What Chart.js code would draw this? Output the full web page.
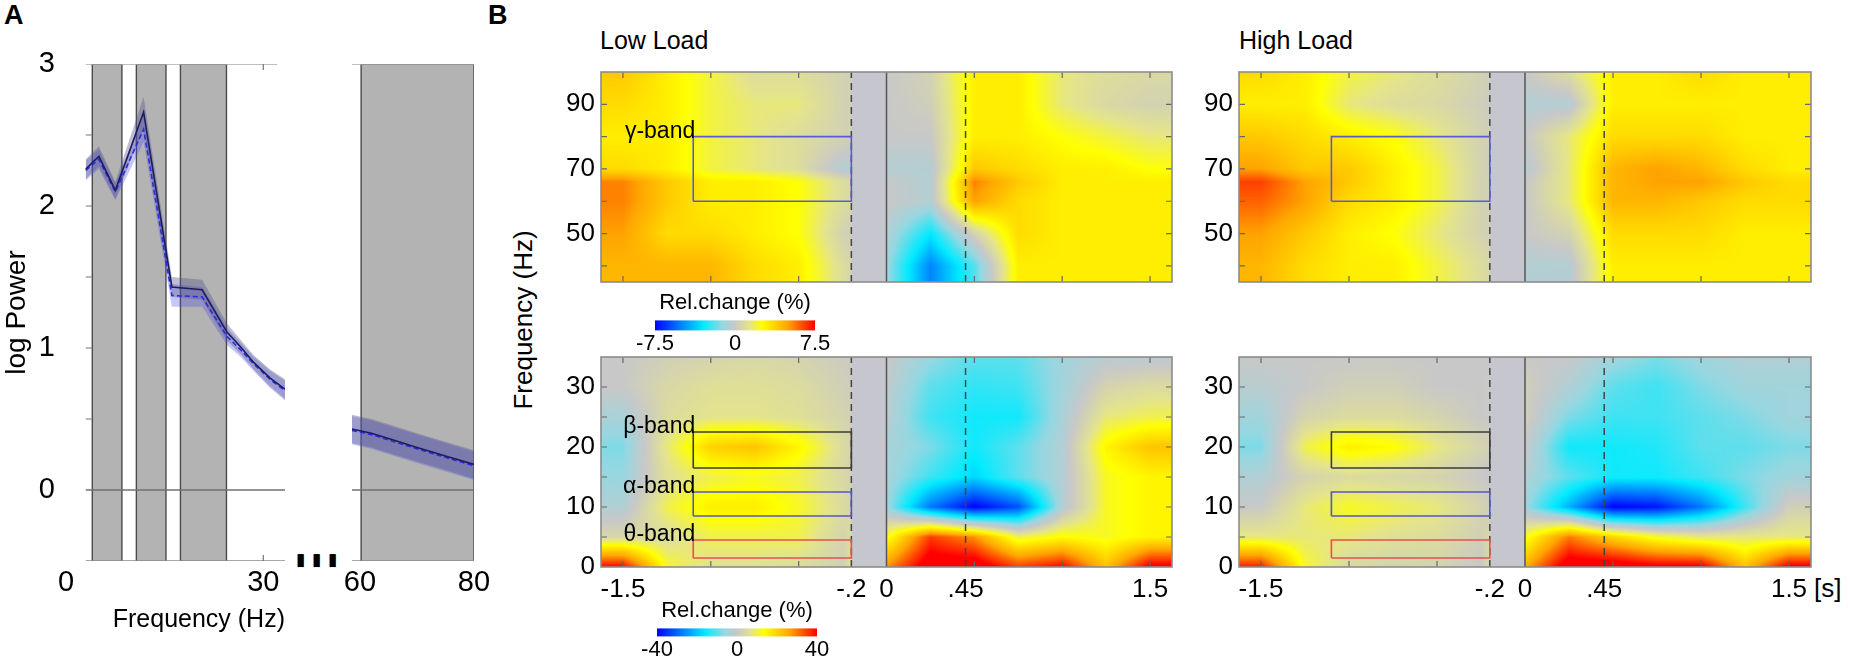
<!DOCTYPE html>
<html>
<head>
<meta charset="utf-8">
<script src="https://cdn.jsdelivr.net/npm/chart.js@4.4.1/dist/chart.umd.min.js"></script>
<style>
  html, body { margin: 0; padding: 0; background: #fff; overflow: hidden; }
  body { width: 1850px; height: 666px; position: relative; font-family: "Liberation Sans", Arial, sans-serif; }
  canvas { position: absolute; }
  .lbl { position: absolute; color: #000; white-space: nowrap; line-height: 30px; }
</style>
</head>
<body>
<div class="lbl" style="left:4px;top:0px;font-size:27px;font-weight:bold">A</div>
<div class="lbl" style="left:488px;top:0px;font-size:27px;font-weight:bold">B</div>
<div class="lbl" style="left:600px;top:25px;font-size:25px">Low Load</div>
<div class="lbl" style="left:1239px;top:25px;font-size:25px">High Load</div>
<div class="lbl" style="left:373px;top:305px;width:300px;text-align:center;font-size:26px;transform:rotate(-90deg)">Frequency (Hz)</div>
<div class="lbl" style="left:1814px;top:573px;font-size:26px">[s]</div>
<div class="lbl" style="left:296px;top:545px;font-size:17px;letter-spacing:7px">▮▮▮</div>

<canvas id="specLow" width="300" height="666" style="left:0;top:0"></canvas>
<canvas id="specHigh" width="190" height="666" style="left:300px;top:0"></canvas>
<canvas id="llGamma" width="635" height="214" style="left:541px;top:70px"></canvas>
<canvas id="llSlow" width="635" height="252" style="left:541px;top:355px"></canvas>
<canvas id="hlGamma" width="636" height="214" style="left:1179px;top:70px"></canvas>
<canvas id="hlSlow" width="636" height="252" style="left:1179px;top:355px"></canvas>
<canvas id="cbGamma" width="240" height="70" style="left:615px;top:290px"></canvas>
<canvas id="cbSlow" width="240" height="66" style="left:617px;top:598px"></canvas>

<script>
// ---------- Panel A: log power spectrum ----------
const freqLowHz   = [3, 5, 7.5, 11.8, 16.1, 20.7, 24.5, 26.5, 28.5, 31, 33.3];
const powerSolid  = [2.26, 2.35, 2.11, 2.66, 1.43, 1.41, 1.11, 1.01, 0.90, 0.79, 0.71];
const powerDashed = [2.25, 2.33, 2.10, 2.54, 1.37, 1.36, 1.08, 0.99, 0.89, 0.78, 0.70];
const semSolid    = [0.07, 0.07, 0.06, 0.11, 0.07, 0.07, 0.06, 0.05, 0.05, 0.06, 0.07];
const semDashed   = [0.07, 0.07, 0.06, 0.09, 0.08, 0.07, 0.06, 0.05, 0.05, 0.06, 0.07];

const freqHighHz      = [58.6, 62, 66, 70, 75, 80];
const powerSolidHigh  = [0.43, 0.40, 0.35, 0.30, 0.24, 0.18];
const powerDashedHigh = [0.42, 0.39, 0.34, 0.29, 0.23, 0.17];
const semHigh         = [0.10, 0.10, 0.10, 0.10, 0.10, 0.10];

const bandsLowHz  = [[4, 8.5], [10.7, 15.2], [17.4, 24.4]];
const bandsHighHz = [[60.2, 80]];
const powerTicks  = [0, 1, 2, 3];

// ---------- Panel B: time-frequency maps (rows = frequency, cols = time) ----------
const tfTimes    = [-1.5, -1.25, -1, -0.75, -0.5, -0.25, 0, 0.25, 0.5, 0.75, 1, 1.25, 1.5];
const gammaFreqs = [40, 50, 60, 66, 70, 80, 90, 100];
const slowFreqs  = [0, 5, 10, 15, 20, 25, 30, 35];

const lowLoadGamma = [
  [4.5, 4.5, 4.5, 3.5, 3, 1, -1, -5, -2, 3, 3, 3, 3],
  [5, 3.5, 3.5, 3, 2.5, 0.5, -0.5, -3, 0.5, 3.5, 3, 3, 3],
  [5.5, 4, 3, 3, 2.5, 1, 0, -0.5, 5, 3.5, 3, 3, 3],
  [5.5, 4, 3, 3, 2.5, 1, 0, -0.5, 5.5, 4, 3, 3, 3],
  [3.5, 3, 2, 1.5, 1, -0.5, -0.5, -0.5, 4, 3.5, 3, 3, 2.5],
  [3, 3, 2, 1.5, 1, 0.5, 0, 0, 3, 3, 2.5, 2, 1.5],
  [3.5, 3, 2, 1.5, 1.5, 0.5, 0, 0.3, 3, 3, 1.5, 0.8, 0.5],
  [4, 3, 2, 1, 1, 0.5, 0, 0.5, 3, 3, 1.5, 1, 0.8]
];
const highLoadGamma = [
  [4.5, 3.5, 3, 3, 2, 1, -0.5, -0.5, 3, 3, 3, 3, 3],
  [5, 4, 3, 2.5, 1.5, 0.5, 0, 0.5, 3.5, 3.5, 3.5, 3, 3],
  [6, 5, 3.5, 3, 2, 0.5, 0, 1.5, 4.5, 4.5, 4, 3.5, 3.5],
  [6.5, 5, 4, 3, 2, 0.5, 0, 1.5, 4.5, 5, 5, 4, 3.5],
  [5, 4, 4, 3, 2, 0.5, -0.5, 1.5, 4.5, 5, 4.5, 3.5, 3],
  [4, 3.5, 3, 2.5, 1.5, 0.5, 0, 1.5, 3.5, 3.5, 3.5, 3, 3],
  [3, 3, 1.5, 1, 0.8, 0.3, -0.5, -0.5, 3, 3, 3, 3, 3],
  [3.5, 3, 2, 1.5, 1, 0.5, 0, 1, 3, 3, 3.5, 3, 3]
];
const lowLoadSlow = [
  [40, 12, 6, 6, 5, 2, 28, 45, 45, 35, 40, 22, 42],
  [4, 5, 10, 10, 10, 3, 12, 35, 28, 10, 14, 12, 15],
  [-3, 10, 16, 16, 12, 5, -5, -28, -40, -32, -3, 12, 15],
  [-6, 6, 10, 12, 10, 4, -4, -12, -18, -10, -3, 12, 15],
  [-8, 8, 20, 22, 15, 5, -4, -8, -15, -10, -3, 15, 22],
  [-4, 5, 7, 7, 6, 3, -2, -12, -15, -15, -4, 8, 10],
  [0, 4, 6, 6, 5, 2, -1, -10, -13, -12, -5, 3, 5],
  [0, 2, 3, 4, 3, 1, 0, -6, -10, -10, -5, -2, -2]
];
const highLoadSlow = [
  [38, 12, 4, 3, 3, 0, 25, 45, 45, 42, 42, 22, 42],
  [8, 8, 8, 6, 5, 2, 12, 30, 20, 12, 8, 8, 8],
  [0, 8, 12, 10, 8, 3, -5, -22, -40, -38, -28, -12, 2],
  [-3, 3, 5, 4, 3, 0, -3, -10, -15, -15, -12, -8, -5],
  [-8, 10, 16, 14, 8, 3, 0, -15, -15, -14, -10, -10, -8],
  [-5, 3, 5, 5, 3, 0, 2, -8, -12, -12, -10, -8, -5],
  [-2, 0, 2, 2, 0, 0, 2, -3, -10, -12, -8, -5, -5],
  [0, 0, 0, 0, 0, 0, 0, 0, -5, -8, -5, -3, -3]
];

const timeTickValues = [-1.5, -0.2, 0, 0.45, 1.5];
const timeTickLabels = ['-1.5', '-.2', '0', '.45', '1.5'];
const timeMarks  = [-1.5, -1, -0.5, 0.5, 1, 1.5];
const gammaTicks = [50, 70, 90];
const slowTicks  = [0, 10, 20, 30];
const gammaLimit = 7.5;
const slowLimit  = 40;

// analysis windows: [tStart, tEnd, fLow, fHigh]
const gammaBox = [-1.1, -0.2, 60, 80];
const betaBox  = [-1.1, -0.2, 16.5, 22.5];
const alphaBox = [-1.1, -0.2, 8.5, 12.5];
const thetaBox = [-1.1, -0.2, 1.5, 4.5];

Chart.defaults.font.family = '"Liberation Sans", Arial, sans-serif';
Chart.defaults.color = '#000';
Chart.defaults.animation = false;
Chart.defaults.plugins.legend.display = false;
Chart.defaults.plugins.tooltip.enabled = false;

const cmapStops = [
  [0.00, [0, 0, 255]],
  [0.15, [0, 120, 255]],
  [0.30, [0, 235, 255]],
  [0.42, [150, 215, 225]],
  [0.50, [200, 200, 200]],
  [0.59, [228, 228, 140]],
  [0.67, [255, 255, 0]],
  [0.83, [255, 165, 0]],
  [1.00, [255, 0, 0]]
];

function cmap(u) {
  u = Math.max(0, Math.min(1, u));
  for (let k = 1; k < cmapStops.length; k++) {
    if (u <= cmapStops[k][0]) {
      const [u0, c0] = cmapStops[k - 1];
      const [u1, c1] = cmapStops[k];
      const f = (u - u0) / (u1 - u0);
      return c0.map((c, i) => Math.round(c + (c1[i] - c) * f));
    }
  }
  return cmapStops[cmapStops.length - 1][1];
}

// index pair + fraction of v inside a sorted array
function bracket(arr, v) {
  const n = arr.length;
  if (v <= arr[0]) return [0, 0, 0];
  if (v >= arr[n - 1]) return [n - 1, n - 1, 0];
  let k = 0;
  while (arr[k + 1] < v) k++;
  return [k, k + 1, (v - arr[k]) / (arr[k + 1] - arr[k])];
}

const pts = (xs, ys) => xs.map((x, i) => ({ x, y: ys[i] }));
const fixTicks = vals => scale => { scale.ticks = vals.map(v => ({ value: v })); };
// fixed axis size, and no extra label padding pushed into the layout
const fitX = h => s => { s.height = h; s.paddingLeft = s.paddingRight = s.paddingTop = s.paddingBottom = 0; };
const fitY = w => s => { s.width = w; s.paddingLeft = s.paddingRight = s.paddingTop = s.paddingBottom = 0; };
const noGrid = { display: false, drawTicks: false };

// shaded heatmap drawn under the datasets
const heatmapPlugin = {
  id: 'heatmap',
  beforeDatasetsDraw(chart, args, opts) {
    const { ctx, chartArea: a, scales: { x, y } } = chart;
    const w = Math.round(a.right - a.left), h = Math.round(a.bottom - a.top);
    const off = document.createElement('canvas');
    off.width = w; off.height = h;
    const octx = off.getContext('2d');
    const img = octx.createImageData(w, h);
    const cols = [];
    for (let i = 0; i < w; i++) cols.push(bracket(opts.times, x.getValueForPixel(a.left + i + 0.5)));
    for (let j = 0; j < h; j++) {
      const [r0, r1, fr] = bracket(opts.freqs, y.getValueForPixel(a.top + j + 0.5));
      for (let i = 0; i < w; i++) {
        const [c0, c1, fc] = cols[i];
        const lo = opts.grid[r0][c0] * (1 - fc) + opts.grid[r0][c1] * fc;
        const hi = opts.grid[r1][c0] * (1 - fc) + opts.grid[r1][c1] * fc;
        const v = lo * (1 - fr) + hi * fr;
        const rgb = cmap((v / opts.limit + 1) / 2);
        const p = (j * w + i) * 4;
        img.data[p] = rgb[0]; img.data[p + 1] = rgb[1]; img.data[p + 2] = rgb[2]; img.data[p + 3] = 255;
      }
    }
    octx.putImageData(img, 0, 0);
    ctx.drawImage(off, a.left, a.top, a.right - a.left, a.bottom - a.top);
  }
};

// inward tick marks, box border and band labels
const framePlugin = {
  id: 'frame',
  afterDatasetsDraw(chart, args, opts) {
    const { ctx, chartArea: a, scales: { x, y } } = chart;
    const len = opts.len || 6;
    const left = opts.leftValue != null ? x.getPixelForValue(opts.leftValue) : a.left;
    ctx.save();
    ctx.strokeStyle = opts.tickColor || '#666';
    ctx.lineWidth = 1.2;
    ctx.beginPath();
    (opts.yMarks || []).forEach(v => {
      const py = y.getPixelForValue(v);
      ctx.moveTo(left, py); ctx.lineTo(left + len, py);
      if (opts.box) { ctx.moveTo(a.right, py); ctx.lineTo(a.right - len, py); }
    });
    (opts.xMarks || []).forEach(v => {
      const px = x.getPixelForValue(v);
      ctx.moveTo(px, a.bottom); ctx.lineTo(px, a.bottom - len);
      ctx.moveTo(px, a.top); ctx.lineTo(px, a.top + len);
    });
    ctx.stroke();
    if (opts.box) {
      ctx.strokeStyle = '#8c8c8c';
      ctx.lineWidth = 1.6;
      ctx.strokeRect(a.left, a.top, a.right - a.left, a.bottom - a.top);
    }
    ctx.fillStyle = '#000';
    ctx.font = '23px "Liberation Sans", Arial, sans-serif';
    ctx.textAlign = 'right';
    ctx.textBaseline = 'alphabetic';
    (opts.labels || []).forEach(l => {
      ctx.fillText(l.text, x.getPixelForValue(l.t) + 2, y.getPixelForValue(l.f) + 1);
    });
    ctx.restore();
  }
};

const colorbarPlugin = {
  id: 'colorbar',
  beforeDatasetsDraw(chart) {
    const { ctx, chartArea: a } = chart;
    const g = ctx.createLinearGradient(a.left, 0, a.right, 0);
    cmapStops.forEach(([u, c]) => g.addColorStop(u, `rgb(${c[0]},${c[1]},${c[2]})`));
    ctx.fillStyle = g;
    ctx.fillRect(a.left, a.top, a.right - a.left, a.bottom - a.top);
  }
};

// ---------- Panel A charts ----------
function bandSet(a, b) {
  return {
    data: [{ x: a, y: -0.5 }, { x: a, y: 3 }, { x: b, y: 3 }, { x: b, y: -0.5 }],
    borderColor: '#4a4a4a', borderWidth: 1.4, backgroundColor: '#b3b3b3',
    fill: 'start', pointRadius: 0, order: 10
  };
}
function refLine(x0, x1, yv, color) {
  return { data: [{ x: x0, y: yv }, { x: x1, y: yv }], borderColor: color, borderWidth: 1.4, pointRadius: 0, fill: false, order: 9 };
}
function semSets(xs, mean, sem, color) {
  return [
    { data: pts(xs, mean.map((m, i) => m + sem[i])), borderWidth: 0, pointRadius: 0, fill: '+1', backgroundColor: color, order: 5 },
    { data: pts(xs, mean.map((m, i) => m - sem[i])), borderWidth: 0, pointRadius: 0, fill: false, order: 5 }
  ];
}
function meanSet(xs, ys, color, dash) {
  return { data: pts(xs, ys), borderColor: color, borderWidth: 1.6, borderDash: dash, pointRadius: 0, fill: false, order: 1 };
}

const yPower = {
  min: -0.5, max: 3,
  grid: noGrid, border: { display: false },
  afterBuildTicks: fixTicks(powerTicks),
  ticks: { font: { size: 29 }, padding: 11 }
};

new Chart(document.getElementById('specLow'), {
  type: 'line',
  data: {
    datasets: [
      ...bandsLowHz.map(([a, b]) => bandSet(a, b)),
      refLine(3, 32.1, 3, '#a8a8a8'),
      refLine(3, 33.3, 0, '#707070'),
      refLine(3, 33.3, -0.5, '#8a8a8a'),
      ...semSets(freqLowHz, powerSolid, semSolid, 'rgba(85,85,140,0.38)'),
      ...semSets(freqLowHz, powerDashed, semDashed, 'rgba(70,70,230,0.30)'),
      meanSet(freqLowHz, powerSolid, '#1c1c60', []),
      meanSet(freqLowHz, powerDashed, '#2a2ae0', [5, 3])
    ]
  },
  options: {
    responsive: false,
    layout: { padding: { top: 64, right: 15, left: 0, bottom: 0 } },
    plugins: { frame: { leftValue: 3, yMarks: [0.5, 1, 1.5, 2, 2.5], xMarks: [30], tickColor: '#777' } },
    scales: {
      x: {
        type: 'linear', min: 0, max: 33.3,
        grid: noGrid, border: { display: false },
        afterBuildTicks: fixTicks([0, 30]),
        ticks: { font: { size: 29 }, padding: 5, maxRotation: 0 },
        title: { display: true, text: 'Frequency (Hz)', align: 'end', font: { size: 25 }, padding: { top: 0, bottom: 31 } },
        afterFit: fitX(105)
      },
      y: {
        ...yPower,
        title: { display: true, text: 'log Power', font: { size: 28 }, padding: 0 },
        afterFit: fitY(66)
      }
    }
  },
  plugins: [framePlugin]
});

new Chart(document.getElementById('specHigh'), {
  type: 'line',
  data: {
    datasets: [
      ...bandsHighHz.map(([a, b]) => bandSet(a, b)),
      refLine(58.6, 80, 3, '#a8a8a8'),
      refLine(58.6, 80, 0, '#707070'),
      refLine(58.6, 80, -0.5, '#8a8a8a'),
      ...semSets(freqHighHz, powerSolidHigh, semHigh, 'rgba(85,85,140,0.38)'),
      ...semSets(freqHighHz, powerDashedHigh, semHigh, 'rgba(70,70,230,0.30)'),
      meanSet(freqHighHz, powerSolidHigh, '#1c1c60', []),
      meanSet(freqHighHz, powerDashedHigh, '#2a2ae0', [5, 3])
    ]
  },
  options: {
    responsive: false,
    layout: { padding: { top: 64, right: 16, left: 52, bottom: 0 } },
    scales: {
      x: {
        type: 'linear', min: 58.6, max: 80,
        grid: noGrid, border: { display: false },
        afterBuildTicks: fixTicks([60, 80]),
        ticks: { font: { size: 29 }, padding: 5, maxRotation: 0 },
        afterFit: fitX(105)
      },
      y: { ...yPower, display: false }
    }
  }
});

// ---------- Panel B charts ----------
function vLine(t, yMin, yMax, dash, color) {
  return { data: [{ x: t, y: yMin }, { x: t, y: yMax }], borderColor: color, borderWidth: 1.5, borderDash: dash, pointRadius: 0, fill: false, order: 2 };
}
function roiBox([t0, t1, f0, f1], color) {
  return {
    data: [{ x: t0, y: f0 }, { x: t1, y: f0 }, { x: t1, y: f1 }, { x: t0, y: f1 }, { x: t0, y: f0 }],
    borderColor: color, borderWidth: 1.6, pointRadius: 0, fill: false, order: 1
  };
}

function tfChart(id, grid, freqs, limit, yMin, yMax, yTicks, yMarks, showX, boxes, labels) {
  return new Chart(document.getElementById(id), {
    type: 'line',
    data: {
      datasets: [
        { data: [{ x: -0.2, y: yMax }, { x: 0, y: yMax }], borderWidth: 0, pointRadius: 0, fill: 'start', backgroundColor: '#c6c6ce', order: 3 },
        vLine(-0.2, yMin, yMax, [7, 5], '#444'),
        vLine(0, yMin, yMax, [], '#555'),
        vLine(0.45, yMin, yMax, [7, 5], '#444'),
        ...boxes.map(b => roiBox(b.box, b.color))
      ]
    },
    options: {
      responsive: false,
      layout: { padding: { top: 2, right: 4, left: 0, bottom: 0 } },
      plugins: {
        heatmap: { grid, times: tfTimes, freqs, limit },
        frame: { box: true, yMarks, xMarks: timeMarks, len: 6, labels }
      },
      scales: {
        x: {
          type: 'linear', min: -1.625, max: 1.625,
          grid: noGrid, border: { display: false },
          afterBuildTicks: fixTicks(timeTickValues),
          ticks: {
            display: showX, font: { size: 26 }, padding: 7, maxRotation: 0, autoSkip: false,
            callback: v => timeTickLabels[timeTickValues.indexOf(v)]
          },
          afterFit: fitX(showX ? 40 : 2)
        },
        y: {
          min: yMin, max: yMax,
          grid: noGrid, border: { display: false },
          afterBuildTicks: fixTicks(yTicks),
          ticks: { font: { size: 26 }, padding: 6 },
          afterFit: fitY(60)
        }
      }
    },
    plugins: [heatmapPlugin, framePlugin]
  });
}

const gammaBoxes = [{ box: gammaBox, color: '#5a5ad8' }];
const slowBoxes = [
  { box: betaBox, color: '#3c3c3c' },
  { box: alphaBox, color: '#5555c8' },
  { box: thetaBox, color: '#e85050' }
];

tfChart('llGamma', lowLoadGamma, gammaFreqs, gammaLimit, 35, 100, gammaTicks, [40, 50, 60, 70, 80, 90], false,
  gammaBoxes, [{ text: 'γ-band', t: gammaBox[0], f: gammaBox[3] }]);
tfChart('llSlow', lowLoadSlow, slowFreqs, slowLimit, 0, 35, slowTicks, [5, 10, 15, 20, 25, 30], true,
  slowBoxes, [
    { text: 'β-band', t: betaBox[0], f: betaBox[3] },
    { text: 'α-band', t: alphaBox[0], f: alphaBox[3] },
    { text: 'θ-band', t: thetaBox[0], f: thetaBox[3] }
  ]);
tfChart('hlGamma', highLoadGamma, gammaFreqs, gammaLimit, 35, 100, gammaTicks, [40, 50, 60, 70, 80, 90], false, gammaBoxes, []);
tfChart('hlSlow', highLoadSlow, slowFreqs, slowLimit, 0, 35, slowTicks, [5, 10, 15, 20, 25, 30], true, slowBoxes, []);

// ---------- colour bars ----------
function colorbar(id, limit, axisHeight) {
  return new Chart(document.getElementById(id), {
    type: 'line',
    data: { datasets: [] },
    options: {
      responsive: false,
      layout: { padding: { left: 40, right: 40, top: 0, bottom: 0 } },
      plugins: { title: { display: true, text: 'Rel.change (%)', font: { size: 22, weight: 'normal' }, padding: { top: 0, bottom: 4 }, color: '#000' } },
      scales: {
        x: {
          type: 'linear', min: -limit, max: limit,
          grid: noGrid, border: { display: false },
          afterBuildTicks: fixTicks([-limit, 0, limit]),
          ticks: { font: { size: 22 }, padding: 0, maxRotation: 0, callback: v => String(v) },
          afterFit: fitX(axisHeight)
        },
        y: { display: false, min: 0, max: 1 }
      }
    },
    plugins: [colorbarPlugin]
  });
}
colorbar('cbGamma', gammaLimit, 29.6);
colorbar('cbSlow', slowLimit, 27.6);
</script>
</body>
</html>
